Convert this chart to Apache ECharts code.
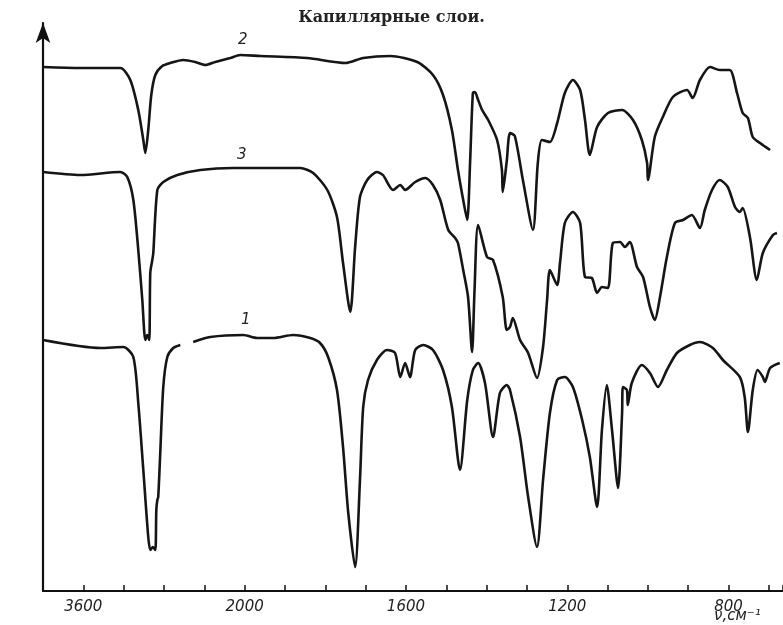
<!DOCTYPE html>
<html>
<head>
<meta charset="utf-8">
<script src="https://cdn.jsdelivr.net/npm/echarts@6/dist/echarts.min.js"></script>
<style>html,body{margin:0;padding:0;background:#fff;}#c{width:783px;height:625px;}</style>
</head>
<body>
<div id="c"></div>
<script>
// ---- data: [wavenumber cm^-1, transmission (arbitrary units, height above baseline)] ----
const titleText = 'Капиллярные слои.';
const axisName = 'ν,см⁻¹';
const tickWavenumbers = [3600, 2000, 1600, 1200, 800];
const curveNames = ['1', '2', '3'];

const curve2 = [
  [4000,524],[3630,523],[3233,523],[3134,511],[3055,481],[3005,451],[2985,438],[2956,461],[2926,496],
  [2886,516],[2817,525],[2738,528],[2609,531],[2490,529],[2391,526],[2291,529],[2143,533],[2044,536],
  [1961,535],[1845,533],[1750,528],[1706,533],[1639,535],[1572,529],[1533,516],[1508,496],[1486,461],
  [1471,421],[1458,391],[1448,371],[1441,428],[1434,498],[1429,499],[1421,491],[1411,481],[1396,471],
  [1374,451],[1362,421],[1360,399],[1350,430],[1342,458],[1330,455],[1310,411],[1285,361],[1273,428],
  [1263,451],[1243,449],[1225,468],[1206,498],[1186,511],[1168,501],[1156,471],[1144,436],[1126,464],
  [1099,478],[1064,481],[1037,471],[1015,451],[1002,428],[1000,411],[983,454],[963,474],[938,494],
  [903,501],[889,493],[871,511],[846,524],[822,521],[797,521],[779,498],[765,478],[752,473],[740,454],
  [722,448],[697,441]
];

const curve3 = [
  [4000,419],[3630,416],[3233,419],[3164,414],[3104,391],[3055,341],[3015,291],[2985,251],[2966,256],
  [2946,251],[2936,318],[2916,331],[2906,338],[2866,401],[2807,409],[2668,416],[2440,421],[2113,423],
  [1862,423],[1830,418],[1795,401],[1771,374],[1756,328],[1738,279],[1726,344],[1714,394],[1696,411],
  [1672,419],[1657,416],[1632,401],[1614,406],[1602,401],[1577,409],[1552,413],[1533,406],[1515,391],
  [1495,361],[1478,353],[1471,348],[1458,321],[1446,294],[1436,239],[1430,300],[1421,366],[1399,334],
  [1384,331],[1360,294],[1350,261],[1342,264],[1335,273],[1317,251],[1297,238],[1275,213],[1260,244],
  [1250,291],[1243,321],[1225,306],[1218,328],[1206,368],[1186,379],[1168,368],[1156,314],[1139,313],
  [1126,298],[1114,304],[1099,303],[1087,348],[1069,349],[1057,344],[1045,349],[1027,324],[1012,314],
  [995,284],[983,271],[970,294],[953,334],[933,368],[913,371],[891,376],[871,363],[859,381],[841,401],
  [822,411],[802,404],[784,384],[772,379],[765,383],[747,354],[730,311],[715,338],[690,356],[680,358]
];

const curve1 = [
  [4000,251],[3431,243],[3203,244],[3104,234],[3055,188],[3005,121],[2956,54],[2936,41],[2911,44],
  [2886,41],[2876,81],[2866,91],[2857,94],[2837,138],[2807,204],[2767,234],[2708,243],[2638,246],
  [2575,null],
  [2510,249],[2341,254],[2014,256],[1969,253],[1929,253],[1880,256],[1837,253],[1813,248],[1793,234],
  [1771,201],[1756,144],[1743,78],[1726,24],[1714,111],[1706,184],[1694,211],[1672,231],[1647,241],
  [1627,238],[1614,214],[1602,228],[1590,214],[1577,241],[1557,246],[1533,241],[1508,221],[1486,184],
  [1466,121],[1448,191],[1434,221],[1421,228],[1404,208],[1384,154],[1367,198],[1350,206],[1342,201],
  [1317,154],[1297,94],[1275,44],[1260,111],[1243,178],[1225,211],[1206,214],[1186,204],[1163,171],
  [1144,134],[1126,84],[1114,161],[1102,206],[1089,161],[1074,103],[1064,178],[1062,204],[1052,201],
  [1050,186],[1040,208],[1015,226],[995,218],[975,204],[953,221],[928,238],[896,246],[871,249],
  [839,243],[814,231],[772,214],[760,194],[752,159],[740,201],[728,221],[715,214],[710,209],[697,223],
  [673,228]
];

// instrument scale: 400 cm^-1 per division above 2000, 100 cm^-1 per division below
function toU(w) { return w >= 2000 ? (3600 - w) / 400 : 4 + (2000 - w) / 100; }
function conv(arr) { return arr.map(p => p[1] == null ? [toU(p[0]), '-'] : [toU(p[0]), p[1]]); }

const lineStyle = { color: '#151515', width: 2.6 };
function mkSeries(name, arr) {
  return {
    name: name, type: 'line', data: conv(arr), showSymbol: false, symbol: 'none',
    smooth: 0.25, connectNulls: false, lineStyle: lineStyle, silent: true, animation: false
  };
}

const chart = echarts.init(document.getElementById('c'), null, { renderer: 'canvas' });
chart.setOption({
  backgroundColor: '#ffffff',
  animation: false,
  grid: { left: 43, right: 0, top: 23, bottom: 34, containLabel: false, outerBoundsMode: 'none' },
  xAxis: {
    type: 'value', min: -1, max: 17.35, interval: 1,
    axisLine: { show: true, onZero: false, lineStyle: { color: '#111', width: 2 } },
    axisTick: { show: true, inside: true, length: 6, lineStyle: { color: '#111', width: 1.5 } },
    splitLine: { show: false },
    axisLabel: {
      show: true, margin: 9, color: '#222', fontSize: 15, fontStyle: 'italic',
      fontFamily: 'DejaVu Sans',
      formatter: function (v) {
        for (const w of tickWavenumbers) { if (Math.abs(toU(w) - v) < 1e-6) return String(w); }
        return '';
      }
    }
  },
  yAxis: {
    type: 'value', min: 0, max: 568,
    axisLine: { show: true, onZero: false, symbol: ['none', 'arrow'], symbolSize: [11, 20], lineStyle: { color: '#111', width: 2.2 } },
    axisTick: { show: false }, axisLabel: { show: false }, splitLine: { show: false }
  },
  series: [mkSeries(curveNames[1], curve2), mkSeries(curveNames[2], curve3), mkSeries(curveNames[0], curve1)],
  graphic: [
    { type: 'text', left: 'center', top: 10, style: { text: titleText, font: 'bold 16px "DejaVu Serif"', fill: '#222' } },
    { type: 'text', x: 714, y: 609, style: { text: axisName, font: 'italic 15px "DejaVu Sans"', fill: '#222' } },
    { type: 'text', x: 238, y: 33, style: { text: curveNames[1], font: 'italic 15px "DejaVu Sans"', fill: '#222' } },
    { type: 'text', x: 237, y: 148, style: { text: curveNames[2], font: 'italic 15px "DejaVu Sans"', fill: '#222' } },
    { type: 'text', x: 241, y: 313, style: { text: curveNames[0], font: 'italic 15px "DejaVu Sans"', fill: '#222' } }
  ]
});
</script>
</body>
</html>
